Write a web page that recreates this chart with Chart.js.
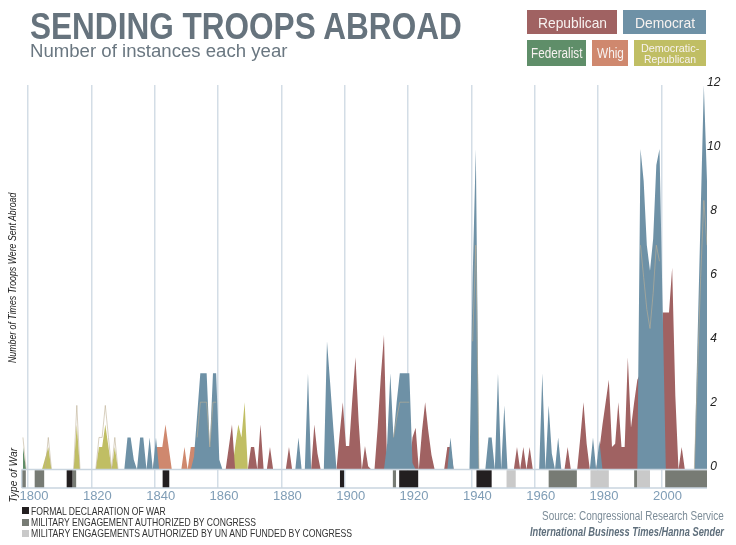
<!DOCTYPE html>
<html>
<head>
<meta charset="utf-8">
<script src="https://cdn.jsdelivr.net/npm/chart.js@4.4.1/dist/chart.umd.min.js"></script>
<style>
html,body{margin:0;padding:0;background:#fff;}
#wrap{position:relative;width:736px;height:545px;overflow:hidden;background:#fff;}
#c{position:absolute;left:0;top:0;width:736px;height:545px;}
.t{position:absolute;white-space:nowrap;line-height:1;transform-origin:0 0;}
.box{position:absolute;}
.sq{position:absolute;width:7px;height:7px;}
</style>
</head>
<body>
<div id="wrap"><canvas id="c" width="736" height="545"></canvas></div>
<script>
// ---------------- DATA ----------------
const firstYear = 1798, lastYear = 2014;
const years = [];
for (let y = firstYear; y <= lastYear; y++) years.push(y);

const xTickYears  = [1800, 1820, 1840, 1860, 1880, 1900, 1920, 1940, 1960, 1980, 2000];
const xTickLabels = ['1800','1820','1840','1860','1880','1900','1920','1940','1960','1980','2000'];
const yTicks = [0, 2, 4, 6, 8, 10, 12];

// rows: 1798-1799, then one row per decade (1800s ... 2000s), then 2010-2014
const federalist = [
  0.7,0,
  0,0,0,0,0,0,0,0,0,0,
  0,0,0,0,0,0,0,0,0,0,
  0,0,0,0,0,0,0,0,0,0,
  0,0,0,0,0,0,0,0,0,0,
  0,0,0,0,0,0,0,0,0,0,
  0,0,0,0,0,0,0,0,0,0,
  0,0,0,0,0,0,0,0,0,0,
  0,0,0,0,0,0,0,0,0,0,
  0,0,0,0,0,0,0,0,0,0,
  0,0,0,0,0,0,0,0,0,0,
  0,0,0,0,0,0,0,0,0,0,
  0,0,0,0,0,0,0,0,0,0,
  0,0,0,0,0,0,0,0,0,0,
  0,0,0,0,0,0,0,0,0,0,
  0,0,0,0,0,0,0,0,0,0,
  0,0,0,0,0,0,0,0,0,0,
  0,0,0,0,0,0,0,0,0,0,
  0,0,0,0,0,0,0,0,0,0,
  0,0,0,0,0,0,0,0,0,0,
  0,0,0,0,0,0,0,0,0,0,
  0,0,0,0,0,0,0,0,0,0,
  0,0,0,0,0
];
const democraticRepublican = [
  0,0,
  0,0,0,0,0,0.35,0.7,0,0,0,
  0,0,0,0,0,1.4,0,0,0,0,
  0,0,0.7,0.7,1.4,0.7,0,0.7,0,0,
  0,0,0,0,0,0,0,0,0,0,
  0,0,0,0,0,0,0,0,0,0,
  0,0,0,0,0,0,0,0,0,0,
  0,0,0,0,0,0.7,1.4,1.0,2.1,0,
  0,0,0,0,0,0,0,0,0,0,
  0,0,0,0,0,0,0,0,0,0,
  0,0,0,0,0,0,0,0,0,0,
  0,0,0,0,0,0,0,0,0,0,
  0,0,0,0,0,0,0,0,0,0,
  0,0,0,0,0,0,0,0,0,0,
  0,0,0,0,0,0,0,0,0,0,
  0,0,0,0,0,0,0,0,0,0,
  0,0,0,0,0,0,0,0,0,0,
  0,0,0,0,0,0,0,0,0,0,
  0,0,0,0,0,0,0,0,0,0,
  0,0,0,0,0,0,0,0,0,0,
  0,0,0,0,0,0,0,0,0,0,
  0,0,0,0,0,0,0,0,0,0,
  0,0,0,0,0
];
const whig = [
  0,0,
  0,0,0,0,0,0,0,0,0,0,
  0,0,0,0,0,0,0,0,0,0,
  0,0,0,0,0,0,0,0,0,0,
  0,0,0,0,0,0,0,0,0,0,
  0.7,0.7,0.7,1.4,0.7,0,0,0,0,0.7,
  0,0.7,0.7,0.7,0,0,0,0,0,0,
  0,0,0,0,0,0,0,0,0,0,
  0,0,0,0,0,0,0,0,0,0,
  0,0,0,0,0,0,0,0,0,0,
  0,0,0,0,0,0,0,0,0,0,
  0,0,0,0,0,0,0,0,0,0,
  0,0,0,0,0,0,0,0,0,0,
  0,0,0,0,0,0,0,0,0,0,
  0,0,0,0,0,0,0,0,0,0,
  0,0,0,0,0,0,0,0,0,0,
  0,0,0,0,0,0,0,0,0,0,
  0,0,0,0,0,0,0,0,0,0,
  0,0,0,0,0,0,0,0,0,0,
  0,0,0,0,0,0,0,0,0,0,
  0,0,0,0,0,0,0,0,0,0,
  0,0,0,0,0,0,0,0,0,0,
  0,0,0,0,0
];
const democrat = [
  0,0,
  0,0,0,0,0,0,0,0,0,0,
  0,0,0,0,0,0,0,0,0,0,
  0,0,0,0,0,0,0,0,0,0,
  0,1,1,0.3,0,1,1,0,1,0,
  1,0,0,0,0,0,0,0,0,0,
  0,0,0.4,1.7,3,3,3,0.7,3,3,
  0.3,0,0,0,0,0,0,0,0,0,
  0,0,0,0,0,0,0,0,0,0,
  0,0,0,0,0,1,0,0,3,0,
  0,0,0,0,4,2.7,1.3,0,0,0,
  0,0,0,0,0,0,0,0,0,0,
  0,0,0,0.8,3,1,2.1,3,3,3,
  3,0.2,0,0,0,0,0,0,0,0,
  0,0,0,1,0,0,0,0,0,0,
  6,10,0,0,0,1,1,0,3,0,
  2,0,0,0,0,0,0,0,0,0,
  0,0,3,0,2,0.5,0,1,0,0,
  0,0,0,0,0,0,0,0,1,0,
  0.9,0,0,0,0,0,0,0,0,0,
  0,0,0,10,9,7,6.2,7.2,9.5,10,
  5,0,0,0,0,0,0,0,0,0,
  0,4,8,12,9
];
const republican = [
  0,0,
  0,0,0,0,0,0,0,0,0,0,
  0,0,0,0,0,0,0,0,0,0,
  0,0,0,0,0,0,0,0,0,0,
  0,0,0,0,0,0,0,0,0,0,
  0,0,0,0,0,0,0,0,0,0,
  0,0,0,0,0,0,0,0,0,0,
  0,0,0,0.7,1.4,0,0,0,0,0,
  0.7,0.7,0,1.4,0,0,0.7,0,0,0,
  0,0,0.7,0,0,0,0,0,0,0,
  1.4,0.5,0,0,0,0,0,0,1.1,2.1,
  0.73,0.73,2.2,3.5,1.5,0,0.73,0.1,0,0,
  1.3,2.9,4.2,0,0,0,0,0,0,0,
  0,1.0,1.3,0,1.2,2.1,1.2,0.45,0,0,
  0,0,0.7,0.7,0,0,0,0,0,0,
  0,0,0,0,0,0,0,0,0,0,
  0,0,0,0,0.7,0,0.7,0,0.7,0,
  0,0,0,0,0,0,0,0,0,0,
  0.7,0,0,0,1,2.1,0.8,0,0,0,
  0.6,1.4,2.1,2.8,0.7,0.8,2.1,0.7,0.7,3.5,
  1.3,2.1,2.8,3,0,0,0,0,0,0,
  4.9,4.9,4.9,6.3,2.3,0,0.7,0,0,0,
  0,0,0,0,0
];
// faint thin line drawn over the areas (null where not visible)
const _ = null;
const faintLine = [
  1,0,
  _,_,_,_,_,0,1,0,_,_,
  _,_,_,_,0,2,0,_,_,_,
  _,0,1,1,2,1,0,1,0,_,
  _,_,_,_,_,_,_,_,_,_,
  _,_,_,_,_,_,_,_,_,_,
  _,_,_,1,2.1,2.1,2.1,0.7,2.1,2.1,
  _,_,_,_,_,_,_,_,_,_,
  _,_,_,_,_,_,_,_,_,_,
  _,_,_,_,_,_,_,_,_,_,
  _,_,_,_,_,_,_,_,_,_,
  _,_,_,_,_,_,_,_,_,_,
  _,_,_,_,_,1,1.6,2.1,2.1,2.1,
  2.1,_,_,_,_,_,_,_,_,_,
  _,_,_,_,_,_,_,_,_,_,
  4,7,0,_,_,_,_,_,_,_,
  _,_,_,_,_,_,_,_,_,_,
  _,_,_,_,_,_,_,_,_,_,
  _,_,_,_,_,_,_,_,_,_,
  _,_,_,_,_,_,_,_,_,_,
  _,_,_,7,6,5,4.4,5.5,7,6.5,
  _,_,_,_,_,_,_,_,_,_,
  0,3,6,8.4,7
];

// Type of war strip (start, end on the time axis; type)
const warStart = [1797.6, 1801.7, 1811.8, 1813.7, 1842.1, 1898.1, 1914.8, 1916.8, 1941.2, 1950.7, 1964.0, 1977.2, 1991.0, 1991.9, 2000.8];
const warEnd   = [1798.9, 1804.7, 1813.7, 1814.8, 1844.2, 1899.4, 1915.8, 1922.8, 1946.0, 1953.6, 1972.9, 1983.0, 1991.9, 1996.0, 2014.0];
const warType  = ['auth','auth','formal','auth','formal','formal','auth','formal','formal','un','auth','un','auth','un','auth'];

// ---------------- STYLE ----------------
const COL = {
  republican: '#a06262',
  democrat: '#6e91a6',
  federalist: '#5f8e69',
  whig: '#cf886e',
  demrep: '#c0be64',
  formal: '#231f20',
  auth: '#777b74',
  un: '#c9c9c9',
  grid: '#d3dde6'
};
const NARROW = '"Liberation Sans Narrow","Liberation Sans",Arial,sans-serif';
const SANS = '"Liberation Sans",Arial,sans-serif';

function pts(arr) { return years.map((y, i) => ({ x: y, y: arr[i] })); }
function area(label, arr, color) {
  return { label, data: pts(arr), fill: 'origin', backgroundColor: color,
           borderColor: 'transparent', borderWidth: 0, pointRadius: 0, tension: 0 };
}

const stripPlugin = {
  id: 'strip',
  beforeDatasetsDraw(chart) {
    const { ctx, chartArea: a, scales: { x, y } } = chart;
    const y0 = y.getPixelForValue(0);
    ctx.save();
    for (let i = 0; i < warStart.length; i++) {
      const x1 = x.getPixelForValue(warStart[i]);
      const x2 = x.getPixelForValue(warEnd[i]);
      ctx.fillStyle = COL[warType[i]];
      ctx.fillRect(x1, y0 + 0.7, x2 - x1, a.bottom - y0 - 0.7);
    }
    ctx.restore();
  },
  afterDatasetsDraw(chart) {
    const { ctx, chartArea: a, scales: { y } } = chart;
    const y0 = y.getPixelForValue(0);
    ctx.save();
    ctx.strokeStyle = '#c9d5df';
    ctx.lineWidth = 1.5;
    ctx.beginPath();
    ctx.moveTo(a.left, y0); ctx.lineTo(a.right, y0);
    ctx.moveTo(a.left, a.bottom); ctx.lineTo(a.right, a.bottom);
    ctx.moveTo(a.left, y0); ctx.lineTo(a.left, a.bottom);
    ctx.stroke();
    ctx.restore();
  }
};

new Chart(document.getElementById('c'), {
  type: 'line',
  data: {
    datasets: [
      { label: 'line', data: pts(faintLine), fill: false, borderColor: 'rgba(190,176,150,0.6)',
        borderWidth: 1, pointRadius: 0, tension: 0, spanGaps: false },
      area('Democrat', democrat, COL.democrat),
      area('Republican', republican, COL.republican),
      area('Whig', whig, COL.whig),
      area('Democratic-Republican', democraticRepublican, COL.demrep),
      area('Federalist', federalist, COL.federalist)
    ]
  },
  options: {
    responsive: false,
    animation: false,
    devicePixelRatio: 1,
    layout: { padding: { left: 21.7, right: 0, top: 85, bottom: 37 } },
    plugins: { legend: { display: false }, tooltip: { enabled: false } },
    scales: {
      x: {
        type: 'linear', min: 1797.6, max: 2014.0,
        afterBuildTicks: s => { s.ticks = xTickYears.map(v => ({ value: v - 0.4 })); },
        afterFit: s => { s.height = 20; },
        ticks: { autoSkip: false, maxRotation: 0, padding: 1, labelOffset: 6,
                 color: '#7f9db6', font: { family: SANS, size: 13 },
                 callback: (v, i) => xTickLabels[i] },
        grid: { color: COL.grid, lineWidth: 1.5, drawTicks: false },
        border: { display: false }
      },
      y: {
        position: 'right', min: -0.578, max: 12,
        afterBuildTicks: s => { s.ticks = yTicks.map(v => ({ value: v })); },
        afterFit: s => { s.width = 29; },
        ticks: { padding: 0, crossAlign: 'center', labelOffset: -2.5, color: '#222',
                 font: { family: NARROW, size: 12, style: 'italic' } },
        grid: { display: false, drawTicks: false },
        border: { display: false }
      }
    }
  },
  plugins: [stripPlugin]
});

// ---------------- TEXT ----------------
const wrap = document.getElementById('wrap');
function addText(txt, o) {
  const el = document.createElement('div');
  el.className = 't';
  el.textContent = txt;
  el.style.font = o.font;
  el.style.color = o.color;
  wrap.appendChild(el);
  const w = el.offsetWidth, h = el.offsetHeight;
  const sx = o.width ? o.width / w : 1;
  if (o.rotate) {
    el.style.left = o.cx + 'px';
    el.style.top = o.cy + 'px';
    el.style.transform = `rotate(-90deg) scale(${sx},1) translate(${-w / 2}px,${-h / 2}px)`;
  } else {
    let left;
    if (o.right !== undefined) left = o.right - w * sx;
    else if (o.cx !== undefined) left = o.cx - w * sx / 2;
    else left = o.left;
    el.style.left = left + 'px';
    el.style.top = (o.cy - h / 2) + 'px';
    el.style.transform = `scale(${sx},1)`;
  }
}
function addBox(l, t, w, h, color, cls) {
  const d = document.createElement('div');
  d.className = cls || 'box';
  d.style.left = l + 'px'; d.style.top = t + 'px';
  d.style.width = w + 'px'; d.style.height = h + 'px';
  d.style.background = color;
  wrap.appendChild(d);
}

addText('SENDING TROOPS ABROAD', { font: `bold 36px ${NARROW}`, color: '#66737d', left: 30, cy: 26.5, width: 432 });
addText('Number of instances each year', { font: `18.9px ${SANS}`, color: '#6a7781', left: 30, cy: 51, width: 257 });

// party legend boxes
addBox(527, 10, 90, 24, COL.republican);
addBox(623, 10, 83, 24, COL.democrat);
addBox(527, 40, 59, 26, COL.federalist);
addBox(592, 40, 36, 26, COL.whig);
addBox(634, 40, 72, 26, COL.demrep);
const boxText = '#f7f2f0';
addText('Republican', { font: `15px ${NARROW}`, color: boxText, cx: 572, cy: 22, width: 69 });
addText('Democrat', { font: `15px ${NARROW}`, color: boxText, cx: 664.5, cy: 22, width: 60 });
addText('Federalist', { font: `14px ${NARROW}`, color: boxText, cx: 556.5, cy: 53, width: 51 });
addText('Whig', { font: `14px ${NARROW}`, color: boxText, cx: 610, cy: 53, width: 27 });
addText('Democratic-', { font: `11px ${NARROW}`, color: boxText, cx: 670, cy: 47.5, width: 58 });
addText('Republican', { font: `11px ${NARROW}`, color: boxText, cx: 670, cy: 58.5, width: 52 });

// axis titles
addText('Number of Times Troops Were Sent Abroad', { font: `italic 11.5px ${NARROW}`, color: '#222', rotate: true, cx: 12, cy: 278, width: 170 });
addText('Type of War', { font: `italic 11.5px ${NARROW}`, color: '#222', rotate: true, cx: 12.5, cy: 474.5, width: 55 });

// war-type legend
addBox(22, 507, 7, 7, COL.formal, 'sq');
addBox(22, 519, 7, 7, COL.auth, 'sq');
addBox(22, 530, 7, 7, COL.un, 'sq');
addText('FORMAL DECLARATION OF WAR', { font: `10.5px ${NARROW}`, color: '#333', left: 31, cy: 510.7, width: 135 });
addText('MILITARY ENGAGEMENT AUTHORIZED BY CONGRESS', { font: `10.5px ${NARROW}`, color: '#333', left: 31, cy: 522.2, width: 225 });
addText('MILITARY ENGAGEMENTS AUTHORIZED BY UN AND FUNDED BY CONGRESS', { font: `10.5px ${NARROW}`, color: '#333', left: 31, cy: 533.4, width: 321 });

// source
addText('Source: Congressional Research Service', { font: `12.5px ${NARROW}`, color: '#7b8b97', right: 724, cy: 516, width: 182 });
addText('International Business Times/Hanna Sender', { font: `italic bold 12.5px ${NARROW}`, color: '#5f6f7c', right: 724, cy: 531.5, width: 194 });
</script>
</body>
</html>
